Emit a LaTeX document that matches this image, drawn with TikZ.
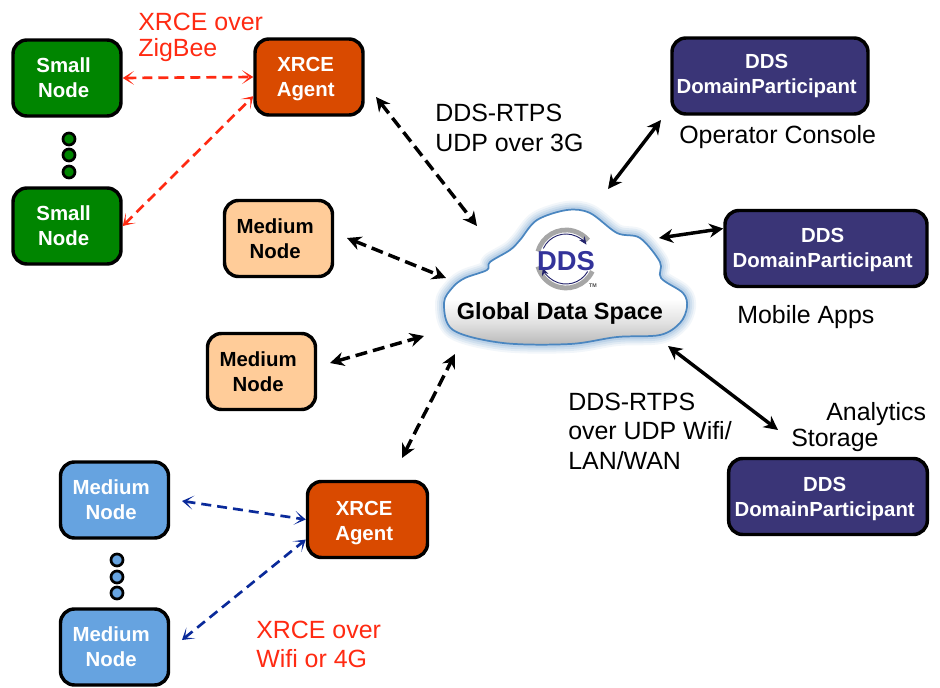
\documentclass[tikz,border=0pt]{standalone}
\usepackage{fontspec}
\setmainfont{Liberation Sans}
\usetikzlibrary{arrows.meta,shadows}
\definecolor{gnode}{HTML}{008500}
\definecolor{agentc}{HTML}{D94A00}
\definecolor{peach}{HTML}{FFCC99}
\definecolor{bluen}{HTML}{66A3E0}
\definecolor{navy}{HTML}{3A3577}
\definecolor{redt}{HTML}{FF2A12}
\definecolor{darkblue}{HTML}{0A2A9A}
\definecolor{logob}{HTML}{33339A}
\definecolor{cloudl}{HTML}{4A86C0}
\pgfdeclareverticalshading{cloudsh}{100bp}{color(0bp)=(black!28); color(25bp)=(black!28); color(33bp)=(black!12); color(42bp)=(white); color(100bp)=(white)}
\newcommand{\twolines}[3][0pt]{\rule{0pt}{#1}#2\hspace*{5pt}\\#3\hspace*{5pt}}
\tikzset{
  x=0.75pt,y=-0.75pt,
  box/.style={draw=black,line width=2.6pt,rounded corners=10.5pt,inner sep=0pt,align=center,
    font=\fontsize{15.3}{18.75}\selectfont\bfseries,
    drop shadow={shadow xshift=0.8pt,shadow yshift=-0.8pt,fill=black!35,opacity=.5}},
  smallbox/.style={box,fill=gnode,text=white,minimum width=81pt,minimum height=57pt},
  agentbox/.style={box,fill=agentc,text=white,minimum width=81pt,minimum height=57pt},
  medbox/.style={box,fill=peach,text=black,minimum width=81pt,minimum height=57pt},
  bluebox/.style={box,fill=bluen,text=white,minimum width=81pt,minimum height=57pt},
  ddsbox/.style={box,fill=navy,text=white,minimum height=57pt},
  lbl/.style={anchor=west,inner sep=0pt,font=\fontsize{18.7}{22}\selectfont,align=left},
  dot/.style={circle,draw=black,line width=2pt,minimum size=9pt,inner sep=0pt},
  blk/.style={black,line width=2.6pt,{Stealth[length=10.5pt,width=10.5pt]}-{Stealth[length=10.5pt,width=10.5pt]}},
  blkd/.style={blk,dash pattern=on 9pt off 4.5pt},
  redc/.style={redt,line width=2pt,dash pattern=on 7.5pt off 4.5pt,{Stealth[length=8.5pt,width=10.5pt,inset=5.5pt]}-{Stealth[length=8.5pt,width=10.5pt,inset=5.5pt]}},
  bluec/.style={darkblue,line width=2pt,dash pattern=on 7.5pt off 4.5pt,{Stealth[length=8.5pt,width=10.5pt,inset=5.5pt]}-{Stealth[length=8.5pt,width=10.5pt,inset=5.5pt]}},
}
\def\cloudpath{plot[smooth cycle,tension=.55] coordinates {(444,303)(453,287)(465,278)(487,270)(490,262)(510,250)(520,240)(537,220)(567,210)(590,213)(617,233)(640,238)(660,262)(661,278)(683,293)(687,307)(680,323)(660,335)(617,337)(570,344)(503,343)(453,330)}}
\begin{document}
\begin{tikzpicture}
\useasboundingbox (0,0) rectangle (940,688);
\fill[white] (0,0) rectangle (940,688);
% cloud
\foreach \w/\o in {18/.10,14/.14,10/.18,6/.25}{
  \draw[cloudl!70,line width=\w*0.75pt,opacity=\o,line join=round] \cloudpath;
}
\fill[white] \cloudpath;
\shade[shading=cloudsh] \cloudpath;
\draw[cloudl,line width=1.3pt] \cloudpath;
% DDS logo
\coordinate (logo) at (566,259);
\draw[black!35,line width=3.6pt] ([shift={(195:29)}]logo) arc[start angle=195,end angle=320,radius=29];
\draw[black!35,line width=3.6pt] ([shift={(25:29)}]logo) arc[start angle=25,end angle=165,radius=29];
\draw[logob!70!black,line width=.7pt,-{Stealth[length=6pt,width=5pt]}] ([shift={(205:25)}]logo) arc[start angle=205,end angle=325,radius=25];
\draw[logob!70!black,line width=.7pt,-{Stealth[length=6pt,width=5pt]}] ([shift={(30:25)}]logo) arc[start angle=30,end angle=160,radius=25];
\node[inner sep=0pt,text=logob,font=\fontsize{20.5}{22}\selectfont\bfseries] (ddslogo) at (566,261) {DDS};
\node[inner sep=0pt,text=black!70,font=\fontsize{4}{5}\selectfont\bfseries] (tm) at (593,286) {TM};
\node[inner sep=0pt,font=\fontsize{17.6}{20}\selectfont\bfseries] (gds) at (560,313) {Global Data Space};
% nodes
\node[smallbox] (sa) at (67,78) {\twolines{Small}{Node}};
\node[smallbox] (sb) at (67,226) {\twolines{Small}{Node}};
\node[agentbox] (aa) at (309,77) {\twolines[14pt]{XRCE}{Agent}};
\node[medbox] (ma) at (278.5,238.5) {\twolines{Medium}{Node}};
\node[medbox] (mb) at (261.5,371.5) {\twolines{Medium}{Node}};
\node[bluebox] (ba) at (114.5,500) {\twolines{Medium}{Node}};
\node[bluebox] (bb) at (114.5,647) {\twolines{Medium}{Node}};
\node[agentbox,minimum width=90pt] (ab) at (367.5,519.5) {\twolines[15.5pt]{XRCE}{Agent}};
\node[ddsbox,minimum width=147pt] (da) at (770,76) {\twolines{DDS}{DomainParticipant}};
\node[ddsbox,minimum width=151.5pt] (db) at (826,248.5) {\twolines[13.2pt]{DDS}{DomainParticipant}};
\node[ddsbox,minimum width=149pt] (dc) at (828,496.5) {\twolines[14.8pt]{DDS}{DomainParticipant}};
% dots
\foreach \n/\y in {1/139,2/155,3/172}{\node[dot,fill=gnode] (gd\n) at (69,\y) {};}
\foreach \n/\y in {1/560,2/577,3/593}{\node[dot,fill=bluen] (bd\n) at (117,\y) {};}
% free ends
\coordinate (c1) at (477,226);
\coordinate (c2) at (446,278);
\coordinate (c3) at (424,336);
\coordinate (c4) at (455,354);
\coordinate (c5) at (608,189);
\coordinate (c6) at (659,238);
\coordinate (c7) at (668,346);
\coordinate (e1) at (376,97);
\coordinate (e2) at (347,238);
\coordinate (e3) at (330,363);
\coordinate (e4) at (402,458);
\coordinate (e5) at (661,120);
\coordinate (e6) at (778,430);
\coordinate (e7) at (182,501);
\coordinate (e8) at (182,640);
% connectors
\draw[blkd] (e1) -- (c1);
\draw[blkd] (e2) -- (c2);
\draw[blkd] (e3) -- (c3);
\draw[blkd] (e4) -- (c4);
\draw[blk] (c5) -- (e5);
\draw[blk] (c6) -- (db.169);
\draw[blk] (c7) -- (e6);
\draw[redc] (sa.east) -- (aa.west);
\draw[redc] (sb.east) -- (aa.199);
\draw[bluec] (e7) -- (ab.west);
\draw[bluec] (e8) -- (ab.198);
% labels
\node[lbl,text=redt] (t1) at (138,22) {XRCE over};
\node[lbl,text=redt] (t2) at (138,50) {ZigBee};
\node[lbl] (t3) at (435,113) {DDS-RTPS};
\node[lbl] (t4) at (435,143) {UDP over 3G};
\node[lbl] (t5) at (679,137) {Operator Console};
\node[lbl] (t6) at (737,317) {Mobile Apps};
\node[lbl] (t7) at (568,402) {DDS-RTPS};
\node[lbl] (t8) at (568,431) {over UDP Wifi/};
\node[lbl] (t9) at (568,461) {LAN/WAN};
\node[lbl] (t10) at (826,414) {Analytics};
\node[lbl] (t11) at (791,440) {Storage};
\node[lbl,text=redt] (t12) at (256,630) {XRCE over};
\node[lbl,text=redt] (t13) at (256,659) {Wifi or 4G};
\end{tikzpicture}
\end{document}
